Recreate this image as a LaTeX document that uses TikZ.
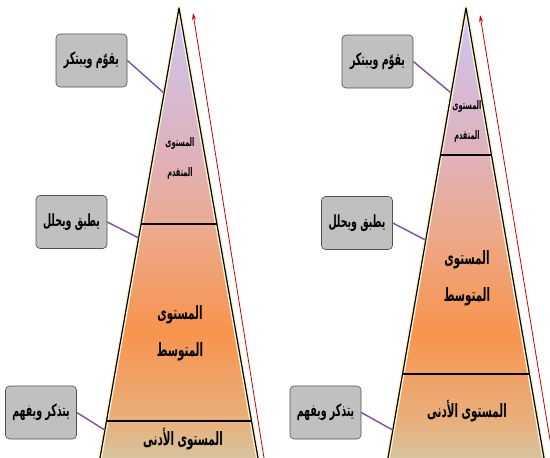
\documentclass[tikz,border=0pt]{standalone}
\usepackage{fontspec}
\usetikzlibrary{arrows.meta,positioning,calc}
\newfontfamily\arabicfont[Script=Arabic]{DejaVu Sans}
\TeXXeTstate=1

\definecolor{boxgray}{HTML}{C0C0C0}
\definecolor{boxline}{HTML}{505050}
\definecolor{linkpurple}{HTML}{7E4FA3}
\definecolor{arrowred}{HTML}{CC0000}
\definecolor{glow}{HTML}{FBF3D2}
\definecolor{pyrlav}{HTML}{CBC6F2}
\definecolor{pyrpink}{HTML}{DFB2BC}
\definecolor{pyrsalmon}{HTML}{ECA98A}
\definecolor{pyrorange}{HTML}{F8944E}
\definecolor{pyrsand}{HTML}{E8B07C}
\definecolor{pyrtan}{HTML}{D6C49E}

\pgfdeclareverticalshading{pyramidshade}{100bp}{color(0bp)=(pyrtan); color(25bp)=(pyrtan); color(29bp)=(pyrsand); color(39bp)=(pyrorange); color(50bp)=(pyrsalmon); color(59bp)=(pyrpink); color(75bp)=(pyrlav); color(100bp)=(pyrlav)}

% tall bold Arabic words
\newcommand{\ar}[1]{\scalebox{0.9}[1.6]{\beginR #1\endR}}

\tikzset{
  skillbox/.style={draw=boxline, fill=boxgray, rounded corners=4pt, line width=0.6pt,
    minimum width=71pt, minimum height=53pt, inner sep=2pt,
    font=\arabicfont\bfseries\fontsize{10.5}{13}\selectfont},
  levelsmall/.style={align=center, font=\arabicfont\bfseries\fontsize{7.4}{30}\selectfont},
  levelbig/.style={align=center, font=\arabicfont\bfseries\fontsize{11.5}{37}\selectfont},
  levellow/.style={font=\arabicfont\bfseries\fontsize{11.5}{13}\selectfont},
  link/.style={linkpurple, line width=1.4pt},
  divider/.style={black, line width=1.6pt},
  climb/.style={arrowred, line width=0.8pt, -{Stealth[length=7pt,width=4pt]}}
}

\begin{document}
\begin{tikzpicture}[x=1pt, y=-1pt]
  \clip (0,0) rectangle (550,458);
  \fill[white] (0,0) rectangle (550,458);

  % Left pyramid
  \coordinate (lapex) at (179,8);
  \coordinate (lbl) at (100,458);
  \coordinate (lbr) at (258,458);
  \shade[shading=pyramidshade] (lapex) -- (lbr) -- (lbl) -- cycle;
  \draw[glow, line width=4pt, line join=round] (lbl) -- (lapex) -- (lbr);
  \draw[black, line width=1.2pt, line join=round] (lbl) -- (lapex) -- (lbr);
  \draw[divider] ($(lapex)!0.48!(lbl)$) -- ($(lapex)!0.48!(lbr)$);
  \draw[divider] ($(lapex)!0.918!(lbl)$) -- ($(lapex)!0.918!(lbr)$);
  \node[levelsmall] (ltop) at (180,158) {\ar{المستوى}\\\ar{المتقدم}};
  \node[levelbig] (lmid) at (180,333) {\ar{المستوى}\\\ar{المتوسط}};
  \node[levellow] (llow) at (183,439) {\ar{المستوى الأدنى}};

  % Left arrow
  \coordinate (lfoot) at (264,458);
  \coordinate (ltip) at (193,13);
  \draw[climb] (lfoot) -- (ltip);

  % Left boxes
  \node[skillbox] (lcreate) at (91.5,60.5) {\ar{يقوّم ويبتكر}};
  \node[skillbox] (lapply) at (71.5,222) {\ar{يطبق ويحلل}};
  \node[skillbox] (lrecall) at (41,412.5) {\ar{يتذكر ويفهم}};
  \draw[link] (lcreate.east) -- ($(lapex)!0.189!(lbl)$);
  \draw[link] (lapply.east) -- ($(lapex)!0.511!(lbl)$);
  \draw[link] (lrecall.east) -- ($(lapex)!0.938!(lbl)$);

  % Right pyramid
  \coordinate (rapex) at (466,8);
  \coordinate (rbl) at (388,458);
  \coordinate (rbr) at (544,458);
  \shade[shading=pyramidshade] (rapex) -- (rbr) -- (rbl) -- cycle;
  \draw[glow, line width=4pt, line join=round] (rbl) -- (rapex) -- (rbr);
  \draw[black, line width=1.2pt, line join=round] (rbl) -- (rapex) -- (rbr);
  \draw[divider] ($(rapex)!0.327!(rbl)$) -- ($(rapex)!0.327!(rbr)$);
  \draw[divider] ($(rapex)!0.813!(rbl)$) -- ($(rapex)!0.813!(rbr)$);
  \node[levelsmall] (rtop) at (467,121) {\ar{المستوى}\\\ar{المتقدم}};
  \node[levelbig] (rmid) at (467,278) {\ar{المستوى}\\\ar{المتوسط}};
  \node[levellow] (rlow) at (467,411) {\ar{المستوى الأدنى}};

  % Right arrow
  \coordinate (rfoot) at (553,458);
  \coordinate (rtip) at (480,15);
  \draw[climb] (rfoot) -- (rtip);

  % Right boxes
  \node[skillbox] (rcreate) at (377.5,61.5) {\ar{يقوّم ويبتكر}};
  \node[skillbox] (rapply) at (357,223) {\ar{يطبق ويحلل}};
  \node[skillbox] (rrecall) at (325.5,412.5) {\ar{يتذكر ويفهم}};
  \draw[link] (rcreate.east) -- ($(rapex)!0.189!(rbl)$);
  \draw[link] (rapply.east) -- ($(rapex)!0.516!(rbl)$);
  \draw[link] (rrecall.east) -- ($(rapex)!0.938!(rbl)$);
\end{tikzpicture}
\end{document}
